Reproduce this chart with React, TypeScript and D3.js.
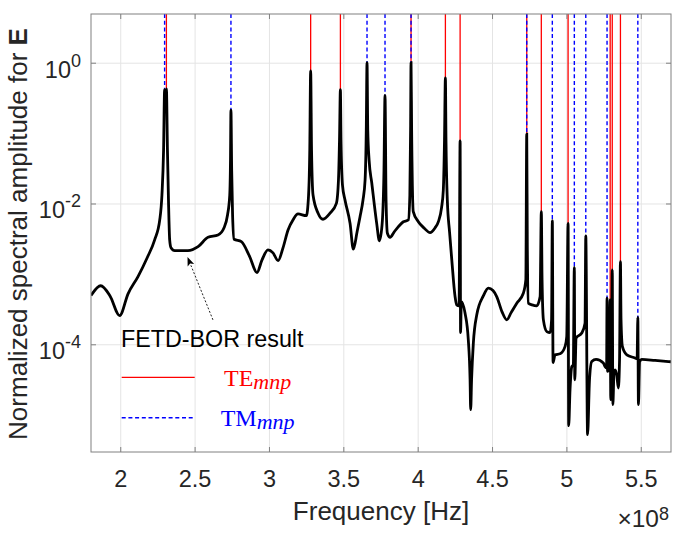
import { useEffect, useRef } from "react";
import { select, scaleLinear, scaleLog, line, curveMonotoneX } from "d3";

const width = 678;
const height = 536;
const margin = { top: 14, right: 7, bottom: 84, left: 91 };

// frequency in units of 1e8 Hz
const curveFreq = [
  1.8, 1.865, 1.928, 1.993, 2.049, 2.116, 2.177, 2.228, 2.262, 2.277, 2.288, 2.295, 2.301, 2.307, 2.314,
  2.321, 2.329, 2.338, 2.363, 2.452, 2.52, 2.587, 2.654, 2.694, 2.718, 2.733, 2.738, 2.741, 2.746, 2.752,
  2.762, 2.811, 2.867, 2.916, 2.95, 2.99, 3.024, 3.058, 3.091, 3.125, 3.158, 3.192, 3.248, 3.263, 3.271,
  3.277, 3.283, 3.293, 3.327, 3.36, 3.407, 3.45, 3.464, 3.471, 3.477, 3.481, 3.491, 3.508, 3.542, 3.564,
  3.589, 3.609, 3.629, 3.643, 3.651, 3.656, 3.661, 3.67, 3.688, 3.721, 3.739, 3.757, 3.77, 3.777, 3.784,
  3.793, 3.811, 3.838, 3.867, 3.898, 3.934, 3.944, 3.949, 3.952, 3.956, 3.967, 4.001, 4.039, 4.08, 4.113,
  4.136, 4.157, 4.169, 4.177, 4.183, 4.187, 4.196, 4.211, 4.226, 4.248, 4.259, 4.275, 4.282, 4.285, 4.29,
  4.315, 4.337, 4.349, 4.353, 4.359, 4.371, 4.394, 4.438, 4.472, 4.503, 4.528, 4.564, 4.596, 4.624, 4.663,
  4.707, 4.724, 4.73, 4.734, 4.741, 4.766, 4.797, 4.82, 4.828, 4.833, 4.842, 4.865, 4.887, 4.897, 4.902,
  4.907, 4.92, 4.954, 4.988, 4.999, 5.008, 5.012, 5.021, 5.033, 5.043, 5.05, 5.053, 5.062, 5.1, 5.122,
  5.127, 5.139, 5.152, 5.167, 5.196, 5.245, 5.257, 5.267, 5.27, 5.273, 5.284, 5.291, 5.295, 5.3, 5.305,
  5.309, 5.317, 5.324, 5.335, 5.346, 5.354, 5.36, 5.364, 5.373, 5.403, 5.458, 5.472, 5.477, 5.481, 5.489,
  5.503, 5.593, 5.7,
];

const curveAmp = [
  5.0e-4, 6.9e-4, 4.95e-4, 2.6e-4, 5.3e-4, 9.3e-4, 1.71e-3, 3.1e-3, 5.9e-3, 1.34e-2, 5.8e-2, 0.42, 0.25, 0.43, 5.8e-2,
  1.14e-2, 3.1e-3, 2.4e-3, 2.18e-3, 2.18e-3, 2.48e-3, 3.37e-3, 3.63e-3, 4.57e-3, 6.99e-3, 1.34e-2, 4.2e-2, 0.215, 3.0e-2, 7.0e-3,
  3.16e-3, 2.92e-3, 1.79e-3, 1.06e-3, 1.61e-3, 2.23e-3, 2.02e-3, 1.57e-3, 2.38e-3, 4.28e-3, 5.93e-3, 7.22e-3, 6.82e-3, 1.34e-2, 5.8e-2,
  0.78, 5.8e-2, 1.34e-2, 7.4e-3, 6.07e-3, 7.4e-3, 1.02e-2, 2.19e-2, 8.1e-2, 0.42, 8.1e-2, 1.86e-2, 1.14e-2, 5.3e-3, 2.28e-3,
  4.0e-3, 6.6e-3, 1.14e-2, 2.19e-2, 0.112, 1.02, 0.112, 4.2e-2, 1.99e-2, 5.3e-3, 3.0e-3, 5.0e-3, 3.0e-2, 0.35, 1.14e-2,
  3.84e-3, 3.37e-3, 4.0e-3, 4.77e-3, 5.55e-3, 5.93e-3, 1.34e-2, 0.112, 1.02, 0.112, 7.8e-3, 5.61e-3, 4.57e-3, 3.92e-3, 4.57e-3,
  5.61e-3, 8.8e-3, 1.58e-2, 8.1e-2, 0.62, 8.1e-2, 1.14e-2, 4.0e-3, 1.61e-3, 4.84e-4, 3.69e-4, 3.57e-4, 7.9e-2, 1.49e-4, 4.1e-4,
  2.82e-4, 1.18e-4, 3.19e-5, 1.2e-5, 3.19e-5, 1.06e-4, 2.67e-4, 4.95e-4, 6.37e-4, 5.9e-4, 4.84e-4, 2.94e-4, 2.26e-4, 2.84e-4, 3.9e-4,
  5.4e-4, 8.4e-4, 9.8e-2, 2.23e-3, 3.9e-4, 3.69e-4, 3.57e-4, 4.84e-4, 7.8e-3, 8.4e-4, 2.26e-4, 1.54e-4, 1.49e-4, 2.26e-4, 5.8e-3,
  5.6e-5, 7.2e-5, 7.45e-5, 9.5e-5, 1.31e-4, 5.3e-3, 7.1e-6, 2.3e-5, 4.9e-5, 5.2e-5, 1.26e-3, 3.19e-5, 1.25e-4, 1.47e-4, 2.03e-4,
  3.52e-3, 5.3e-6, 3.19e-5, 5.8e-5, 6.2e-5, 5.5e-5, 4.9e-5, 4.7e-5, 4.6e-4, 4.2e-5, 4.7e-5, 4.35e-4, 1.66e-5, 4.4e-5, 1.16e-3,
  1.41e-5, 4.14e-5, 4.4e-5, 3.75e-5, 2.43e-5, 6.1e-5, 1.52e-3, 2.26e-4, 9.5e-5, 7.2e-5, 6.5e-5, 6.3e-5, 2.44e-4, 1.41e-5, 5.74e-5,
  6.2e-5, 6.0e-5, 5.74e-5,
];

// analytic mode frequencies (1e8 Hz)
const teModes = [2.307, 3.277, 3.477, 3.952, 4.183, 4.282, 4.73, 4.828, 5.008, 5.291, 5.305, 5.36];
const tmModes = [2.295, 2.741, 3.656, 3.777, 3.952, 4.73, 4.902, 5.05, 5.127, 5.27, 5.477];

const xTicks = [2, 2.5, 3, 3.5, 4, 4.5, 5, 5.5];
const yTicks = [1, 1e-2, 1e-4];
const yTickExp = ["0", "-2", "-4"];

const xDomain = [1.8, 5.7];
const yDomain = [3e-6, 5];

const sans = "'Liberation Sans', Arial, Helvetica, sans-serif";
const serif = "'Liberation Serif', 'DejaVu Serif', serif";
const textColor = "#262626";

export default function App() {
  const ref = useRef<SVGSVGElement>(null);

  useEffect(() => {
    if (!ref.current) return;
    const svg = select(ref.current);
    svg.selectAll("*").remove();

    const x0 = margin.left;
    const x1 = width - margin.right;
    const y0 = margin.top;
    const y1 = height - margin.bottom;

    const x = scaleLinear().domain(xDomain).range([x0, x1]);
    const y = scaleLog().domain(yDomain).range([y1, y0]);

    const pts = curveFreq.map((f, i) => [f, curveAmp[i]] as [number, number]);

    // top of the resonance spike near a mode frequency
    const peakNear = (f: number) => {
      let best = yDomain[0];
      pts.forEach(([pf, pa]) => {
        if (Math.abs(pf - f) <= 0.006 && pa > best) best = pa;
      });
      return best;
    };

    svg
      .append("defs")
      .append("clipPath")
      .attr("id", "plot-clip")
      .append("rect")
      .attr("x", x0)
      .attr("y", y0)
      .attr("width", x1 - x0)
      .attr("height", y1 - y0);

    // grid
    const grid = svg.append("g").attr("stroke", "#e4e4e4").attr("stroke-width", 1);
    xTicks.forEach((t) => {
      grid.append("line").attr("x1", x(t)).attr("x2", x(t)).attr("y1", y0).attr("y2", y1);
    });
    yTicks.forEach((t) => {
      grid.append("line").attr("x1", x0).attr("x2", x1).attr("y1", y(t)).attr("y2", y(t));
    });

    // mode lines, TE first so TM dashes sit on top
    const modes = svg.append("g").attr("clip-path", "url(#plot-clip)");
    modes
      .selectAll(".te")
      .data(teModes)
      .enter()
      .append("line")
      .attr("x1", (d) => x(d))
      .attr("x2", (d) => x(d))
      .attr("y1", y0)
      .attr("y2", (d) => y(peakNear(d)))
      .attr("stroke", "#ff0000")
      .attr("stroke-width", 1.3);
    modes
      .selectAll(".tm")
      .data(tmModes)
      .enter()
      .append("line")
      .attr("x1", (d) => x(d))
      .attr("x2", (d) => x(d))
      .attr("y1", y0)
      .attr("y2", (d) => y(peakNear(d)))
      .attr("stroke", "#0000ff")
      .attr("stroke-width", 1.4)
      .attr("stroke-dasharray", "4,2.7");

    // FETD-BOR curve
    const path = line<[number, number]>()
      .x((d) => x(d[0]))
      .y((d) => y(d[1]))
      .curve(curveMonotoneX);
    svg
      .append("path")
      .attr("clip-path", "url(#plot-clip)")
      .attr("d", path(pts) as string)
      .attr("fill", "none")
      .attr("stroke", "#000")
      .attr("stroke-width", 2.8);

    // axes box and ticks
    const ax = svg.append("g").attr("stroke", "#808080").attr("stroke-width", 1);
    ax.append("rect")
      .attr("x", x0)
      .attr("y", y0)
      .attr("width", x1 - x0)
      .attr("height", y1 - y0)
      .attr("fill", "none");
    xTicks.forEach((t) => {
      ax.append("line").attr("x1", x(t)).attr("x2", x(t)).attr("y1", y1).attr("y2", y1 - 5);
      ax.append("line").attr("x1", x(t)).attr("x2", x(t)).attr("y1", y0).attr("y2", y0 + 5);
    });
    yTicks.forEach((t) => {
      ax.append("line").attr("x1", x0).attr("x2", x0 + 5).attr("y1", y(t)).attr("y2", y(t));
      ax.append("line").attr("x1", x1).attr("x2", x1 - 5).attr("y1", y(t)).attr("y2", y(t));
    });

    // tick labels
    const labels = svg.append("g").attr("font-family", sans).attr("fill", textColor);
    xTicks.forEach((t) => {
      labels
        .append("text")
        .attr("x", x(t))
        .attr("y", y1 + 34.5)
        .attr("text-anchor", "middle")
        .attr("font-size", 23.5)
        .text(String(t));
    });
    yTicks.forEach((t, i) => {
      const tx = labels
        .append("text")
        .attr("x", x0 - 10)
        .attr("y", y(t) + 14.3)
        .attr("text-anchor", "end")
        .attr("font-size", 23.5);
      tx.append("tspan").text("10");
      tx.append("tspan").attr("dy", -11).attr("font-size", 18).text(yTickExp[i]);
    });
    const mult = labels
      .append("text")
      .attr("x", x1 - 2)
      .attr("y", y1 + 75)
      .attr("text-anchor", "end")
      .attr("font-size", 24.5);
    mult.append("tspan").text("×10");
    mult.append("tspan").attr("dy", -7).attr("font-size", 18).text("8");

    // axis titles
    labels
      .append("text")
      .attr("x", (x0 + x1) / 2)
      .attr("y", y1 + 67.5)
      .attr("text-anchor", "middle")
      .attr("font-size", 26)
      .text("Frequency [Hz]");
    const yl = labels
      .append("text")
      .attr("transform", `translate(27, ${(y0 + y1) / 2 + 1}) rotate(-90)`)
      .attr("text-anchor", "middle")
      .attr("font-size", 26);
    yl.append("tspan").text("Normalized spectral amplitude for ");
    yl.append("tspan").attr("font-weight", "bold").text("E");

    // annotation arrow
    const tip = [x(2.449), y(1.77e-3)];
    const tail = [x(2.62), y(2.26e-4)];
    const ang = Math.atan2(tip[1] - tail[1], tip[0] - tail[0]);
    const hl = 9;
    const hw = 3.5;
    const bx = tip[0] - hl * Math.cos(ang);
    const by = tip[1] - hl * Math.sin(ang);
    svg
      .append("line")
      .attr("x1", tail[0])
      .attr("y1", tail[1])
      .attr("x2", bx)
      .attr("y2", by)
      .attr("stroke", "#222")
      .attr("stroke-width", 1)
      .attr("stroke-dasharray", "2,1.8");
    svg
      .append("path")
      .attr(
        "d",
        `M${tip[0]},${tip[1]} L${bx - hw * Math.sin(ang)},${by + hw * Math.cos(ang)} L${bx + 2 * Math.cos(ang)},${by + 2 * Math.sin(ang)} L${bx + hw * Math.sin(ang)},${by - hw * Math.cos(ang)} Z`
      )
      .attr("fill", "#000");

    // legend
    const lg = svg.append("g");
    lg.append("text")
      .attr("x", 121)
      .attr("y", 347.3)
      .attr("font-family", sans)
      .attr("font-size", 23.3)
      .attr("fill", "#000")
      .text("FETD-BOR result");
    lg.append("line")
      .attr("x1", 121.7)
      .attr("x2", 194.7)
      .attr("y1", 377.3)
      .attr("y2", 377.3)
      .attr("stroke", "#ff0000")
      .attr("stroke-width", 1.3);
    lg.append("line")
      .attr("x1", 121.7)
      .attr("x2", 194.7)
      .attr("y1", 417.7)
      .attr("y2", 417.7)
      .attr("stroke", "#0000ff")
      .attr("stroke-width", 1.4)
      .attr("stroke-dasharray", "4,2.7");
    const te = lg
      .append("text")
      .attr("x", 224)
      .attr("y", 386)
      .attr("font-family", serif)
      .attr("font-size", 24)
      .attr("fill", "#ff0000");
    te.append("tspan").text("TE");
    te.append("tspan").attr("dy", 3).attr("font-style", "italic").attr("font-size", 22).text("mnp");
    const tm = lg
      .append("text")
      .attr("x", 220.7)
      .attr("y", 426)
      .attr("font-family", serif)
      .attr("font-size", 24)
      .attr("fill", "#0000ff");
    tm.append("tspan").text("TM");
    tm.append("tspan").attr("dy", 3).attr("font-style", "italic").attr("font-size", 22).text("mnp");
  }, []);

  return (
    <div style={{ position: "fixed", left: 0, top: 0, background: "#fff" }}>
      <svg ref={ref} width={width} height={height} role="img" style={{ display: "block" }}></svg>
    </div>
  );
}
